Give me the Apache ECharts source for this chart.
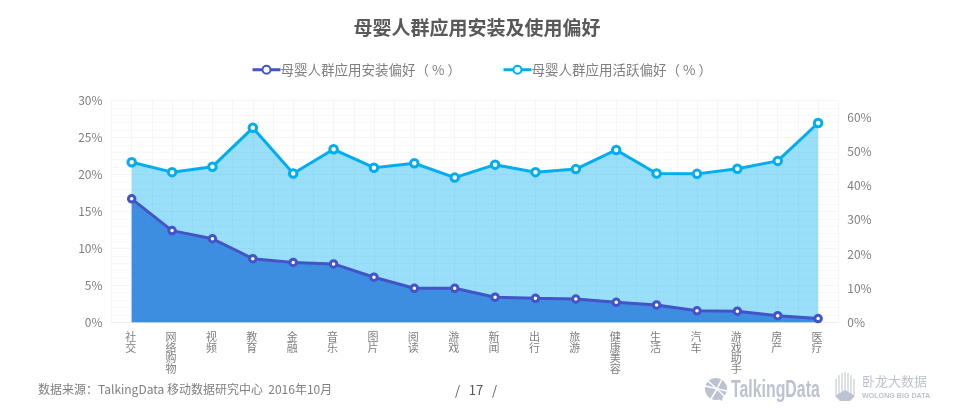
<!DOCTYPE html>
<html>
<head>
<meta charset="utf-8">
<style>html,body{margin:0;padding:0;background:#fff}#chart{width:954px;height:415px}</style>
<script src="https://cdn.jsdelivr.net/npm/echarts@6/dist/echarts.min.js"></script>
</head>
<body>
<div id="chart"></div>
<script>
const categories = ['社交', '网络购物', '视频', '教育', '金融', '音乐', '图片', '阅读', '游戏', '新闻', '出行', '旅游', '健康美容', '生活', '汽车', '游戏助手', '房产', '医疗'];
const installValues = [16.7, 12.4, 11.3, 8.6, 8.1, 7.9, 6.1, 4.6, 4.6, 3.4, 3.25, 3.15, 2.7, 2.35, 1.55, 1.5, 0.9, 0.5];
const activeValues = [46.9, 44.0, 45.6, 57.0, 43.6, 50.7, 45.3, 46.6, 42.4, 46.2, 44.0, 44.9, 50.5, 43.6, 43.5, 45.0, 47.3, 58.4];
const installName = '母婴人群应用安装偏好（ % ）';
const activeName = '母婴人群应用活跃偏好（ % ）';

const font = '"Microsoft YaHei", "Noto Sans CJK SC", sans-serif';
const gridLine = '#f5f5f7';
const logoColor = '#bcc3d0';

const chart = echarts.init(document.getElementById('chart'));

function lineSeries(name, data, color, axis, fill, z, size) {
  return {
    name: name,
    type: 'line',
    data: data,
    yAxisIndex: axis,
    z: z,
    symbol: 'circle',
    symbolSize: size,
    lineStyle: { color: color, width: 3 },
    itemStyle: { color: '#fff', borderColor: color, borderWidth: 3 },
    areaStyle: fill
  };
}

// logo bits, only decoration
function talkingIcon() {
  const cuts = [[-11, -3, 11, 2], [1, 0, 6, -10], [1, 0, -5, 10], [1, 0, 9, 8], [1, 0, -8, -8]];
  return [
    { type: 'circle', shape: { cx: 716, cy: 389, r: 11 }, style: { fill: logoColor } },
    { type: 'polygon', shape: { points: [[713, 396], [723, 396], [722, 401]] }, style: { fill: logoColor } }
  ].concat(cuts.map(function (c) {
    return { type: 'line', x: 716, y: 389, shape: { x1: c[0], y1: c[1], x2: c[2], y2: c[3] }, style: { stroke: '#fff', lineWidth: 1.5 } };
  }));
}

function wolongIcon() {
  const bars = [836, 839, 842, 845, 848, 851, 854];
  const tops = [379, 375, 373, 372, 373, 375, 379];
  return bars.map(function (x, i) {
    return { type: 'line', shape: { x1: x, y1: tops[i], x2: x, y2: 395 }, style: { stroke: '#d5d9e1', lineWidth: 1.6 } };
  }).concat([
    { type: 'polygon', shape: { points: [[835, 396], [845, 390], [855, 396], [850, 401], [840, 401]] }, style: { fill: logoColor } }
  ]);
}

chart.setOption({
  animation: false,
  textStyle: { fontFamily: font },
  title: {
    text: '母婴人群应用安装及使用偏好',
    left: 'center',
    top: 13,
    textStyle: { fontSize: 19, fontWeight: 'bold', color: '#595959', fontFamily: font }
  },
  legend: {
    top: 58,
    left: 246,
    itemGap: 41,
    itemWidth: 28,
    itemHeight: 10,
    lineStyle: { width: 3 },
    textStyle: { fontSize: 13.5, color: '#7f7f7f', padding: [0, 0, 0, -5] },
    data: [installName, activeName]
  },
  grid: { left: 111.5, right: 115.7, top: 100.5, bottom: 92.7 },
  xAxis: [
    {
      type: 'category',
      data: categories,
      axisLine: { lineStyle: { color: '#eeeeee' } },
      axisTick: { show: false },
      splitLine: { show: false },
      axisLabel: {
        interval: 0,
        color: '#7f7f7f',
        fontSize: 11,
        lineHeight: 10.8,
        margin: 9,
        padding: [0, 2, 0, 0],
        formatter: function (v) { return v.split('').join('\n'); }
      }
    },
    {
      // hidden axis, only for the half-category vertical grid lines
      type: 'value',
      position: 'top',
      min: 0,
      max: categories.length * 2,
      interval: 1,
      axisLine: { show: false },
      axisTick: { show: false },
      axisLabel: { show: false },
      splitLine: { show: true, lineStyle: { color: gridLine } }
    }
  ],
  yAxis: [
    {
      type: 'value',
      min: 0,
      max: 30,
      interval: 5,
      axisLine: { show: false },
      axisTick: { show: false },
      minorTick: { show: false, splitNumber: 5 },
      minorSplitLine: { show: true, lineStyle: { color: '#f8f8fa' } },
      splitLine: { lineStyle: { color: gridLine } },
      axisLabel: { color: '#7f7f7f', fontSize: 12, margin: 9, formatter: '{value}%' }
    },
    {
      type: 'value',
      min: 0,
      max: 65,
      interval: 10,
      axisLine: { show: false },
      axisTick: { show: false },
      splitLine: { show: false },
      axisLabel: { color: '#7f7f7f', fontSize: 12, margin: 9, showMaxLabel: false, formatter: '{value}%' }
    }
  ],
  series: [
    lineSeries(installName, installValues, '#4354c9', 0, { color: '#3d8ee0', opacity: 1 }, 4, 6.5),
    lineSeries(activeName, activeValues, '#00aeef', 1, { color: '#00aeef', opacity: 0.4 }, 3, 7.5)
  ],
  graphic: [
    { type: 'text', left: 38, top: 383, style: { text: '数据来源：TalkingData 移动数据研究中心  2016年10月', font: '12px ' + font, fill: '#7f7f7f' } },
    { type: 'text', left: 455, top: 384, style: { text: '/   17   /', font: '13px ' + font, fill: '#595959' } },
    { type: 'text', x: 731, y: 379, scaleX: 0.69, style: { text: 'TalkingData', font: 'bold 23px "Liberation Sans", sans-serif', fill: logoColor } },
    { type: 'text', x: 862, y: 375, style: { text: '卧龙大数据', font: '13px ' + font, fill: logoColor } },
    { type: 'text', x: 862, y: 392, scaleX: 0.95, style: { text: 'WOLONG BIG DATA', font: 'bold 7.5px "Liberation Sans", sans-serif', fill: logoColor } }
  ].concat(talkingIcon(), wolongIcon())
});
</script>
</body>
</html>
